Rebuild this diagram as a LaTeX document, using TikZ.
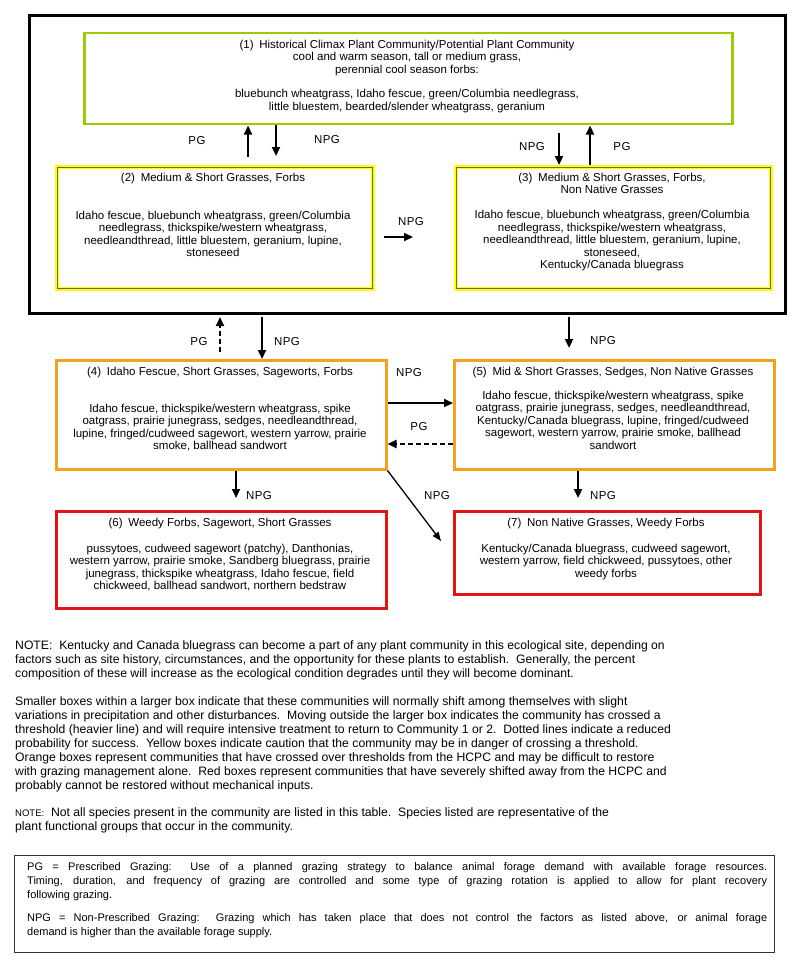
\documentclass[tikz,border=0pt]{standalone}
\usepackage{fontspec}
\setmainfont{Liberation Sans}
\usetikzlibrary{arrows.meta}
\definecolor{cgreen}{RGB}{155,204,0}
\definecolor{cyellow}{RGB}{255,255,0}
\definecolor{cyedge}{RGB}{110,110,60}
\definecolor{corange}{RGB}{245,160,30}
\definecolor{cred}{RGB}{228,20,20}
\begin{document}
\begin{tikzpicture}[x=1pt,y=-1pt,
  boxbase/.style={draw, anchor=north west, inner sep=0pt},
  obox/.style={boxbase, draw=black, line width=3pt},
  gbox/.style={boxbase, draw=cgreen, line width=2.5pt},
  ybox/.style={boxbase, draw=cyellow, line width=4pt},
  orbox/.style={boxbase, draw=corange, line width=2.5pt},
  rbox/.style={boxbase, draw=cred, line width=2.5pt},
  legbox/.style={boxbase, draw=black!80, line width=1.2pt},
  inedge/.style={draw=cyedge, line width=0.8pt},
  txt/.style={font=\fontsize{11.5}{12.4}\selectfont, align=center, inner sep=0pt, anchor=north},
  notetxt/.style={font=\fontsize{12.2}{14}\selectfont, align=left, inner sep=0pt, anchor=north west},
  lbl/.style={font=\fontsize{11.5}{12}\selectfont\addfontfeature{LetterSpace=4}, inner sep=0pt},
  arr/.style={-{Triangle[length=9pt,width=8pt]}, line width=2.2pt},
  thinarr/.style={-{Triangle[length=9pt,width=7pt]}, line width=1.3pt},
  dsh/.style={dash pattern=on 5pt off 3pt}
]
\useasboundingbox (0,0) rectangle (800,963);

% ---------- boxes ----------
\node[obox, minimum width=756pt, minimum height=298pt] (outer) at (28,14) {};
\node[gbox, minimum width=648pt, minimum height=91pt] (b1) at (83,32) {};
\node[ybox, minimum width=316pt, minimum height=122pt] (b2) at (55,165) {};
\node[ybox, minimum width=315pt, minimum height=122pt] (b3) at (454,165) {};
\draw[inedge] ([shift={(2.2pt,-2.2pt)}]b2.north west) rectangle ([shift={(-2.2pt,2.2pt)}]b2.south east);
\draw[inedge] ([shift={(2.2pt,-2.2pt)}]b3.north west) rectangle ([shift={(-2.2pt,2.2pt)}]b3.south east);
\node[orbox, minimum width=330pt, minimum height=109pt] (b4) at (55,359) {};
\node[orbox, minimum width=320pt, minimum height=109pt] (b5) at (453,359) {};
\node[rbox, minimum width=330pt, minimum height=97pt] (b6) at (55,510) {};
\node[rbox, minimum width=306pt, minimum height=83pt] (b7) at (453,510) {};

% ---------- box texts ----------
\node[txt] (t1) at (407,40) {(1)\enspace Historical Climax Plant Community/Potential Plant Community\\
cool and warm season, tall or medium grass,\\
perennial cool season forbs:\\[12pt]
bluebunch wheatgrass, Idaho fescue, green/Columbia needlegrass,\\
little bluestem, bearded/slender wheatgrass, geranium};

\node[txt] (t2) at (213,173) {(2)\enspace Medium \& Short Grasses, Forbs\\[25.5pt]
Idaho fescue, bluebunch wheatgrass, green/Columbia\\
needlegrass, thickspike/western wheatgrass,\\
needleandthread, little bluestem, geranium, lupine,\\
stoneseed};

\node[txt] (t3) at (612,173) {(3)\enspace Medium \& Short Grasses, Forbs,\\
Non Native Grasses\\[12.5pt]
Idaho fescue, bluebunch wheatgrass, green/Columbia\\
needlegrass, thickspike/western wheatgrass,\\
needleandthread, little bluestem, geranium, lupine,\\
stoneseed,\\
Kentucky/Canada bluegrass};

\node[txt] (t4) at (220,367) {(4)\enspace Idaho Fescue, Short Grasses, Sageworts, Forbs\\[24.5pt]
Idaho fescue, thickspike/western wheatgrass, spike\\
oatgrass, prairie junegrass, sedges, needleandthread,\\
lupine, fringed/cudweed sagewort, western yarrow, prairie\\
smoke, ballhead sandwort};

\node[txt] (t5) at (613,367) {(5)\enspace Mid \& Short Grasses, Sedges, Non Native Grasses\\[11.5pt]
Idaho fescue, thickspike/western wheatgrass, spike\\
oatgrass, prairie junegrass, sedges, needleandthread,\\
Kentucky/Canada bluegrass, lupine, fringed/cudweed\\
sagewort, western yarrow, prairie smoke, ballhead\\
sandwort};

\node[txt] (t6) at (220,518) {(6)\enspace Weedy Forbs, Sagewort, Short Grasses\\[13.5pt]
pussytoes, cudweed sagewort (patchy), Danthonias,\\
western yarrow, prairie smoke, Sandberg bluegrass, prairie\\
junegrass, thickspike wheatgrass, Idaho fescue, field\\
chickweed, ballhead sandwort, northern bedstraw};

\node[txt] (t7) at (606,518) {(7)\enspace Non Native Grasses, Weedy Forbs\\[13.5pt]
Kentucky/Canada bluegrass, cudweed sagewort,\\
western yarrow, field chickweed, pussytoes, other\\
weedy forbs};

% ---------- free arrow ends ----------
\coordinate (a1) at (248,157);
\coordinate (a2) at (276,156);
\coordinate (a3) at (559,133);
\coordinate (a4) at (590,0);
\coordinate (a5) at (384,237);
\coordinate (a6) at (413,237);
\coordinate (a7) at (220,352);
\coordinate (a8) at (220,317);
\coordinate (a9) at (262,317);
\coordinate (a10) at (569,317);
\coordinate (a11) at (569,348);
\coordinate (ya) at (0,403);
\coordinate (yb) at (0,444);
\coordinate (a12) at (236,498);
\coordinate (a13) at (578,498);
\coordinate (a14) at (441,541);

% ---------- arrows ----------
\draw[arr] (a1) -- (a1 |- b1.south);
\draw[arr] (a2 |- b1.south) -- (a2);
\draw[arr] (a3) -- (a3 |- b3.north);
\draw[arr] (a4 |- b3.north) -- (a4 |- b1.south);
\draw[arr] (a5) -- (a6);
\draw[arr, dsh] (a7) -- (a8);
\draw[arr] (a9) -- (a9 |- b4.north);
\draw[arr] (a10) -- (a11);
\draw[arr] (b4.east |- ya) -- (b5.west |- ya);
\draw[arr, dsh] (b5.west |- yb) -- (b4.east |- yb);
\draw[arr] (a12 |- b4.south) -- (a12);
\draw[arr] (a13 |- b5.south) -- (a13);
\draw[thinarr] (b4.south east) -- (a14);

% ---------- arrow labels ----------
\node[lbl] (l1) at (197,141) {PG};
\node[lbl] (l2) at (327,140) {NPG};
\node[lbl] (l3) at (532,147) {NPG};
\node[lbl] (l4) at (622,147) {PG};
\node[lbl] (l5) at (411,222) {NPG};
\node[lbl] (l6) at (199,342) {PG};
\node[lbl] (l7) at (287,342) {NPG};
\node[lbl] (l8) at (603,341) {NPG};
\node[lbl] (l9) at (409,373) {NPG};
\node[lbl] (l10) at (419,427) {PG};
\node[lbl] (l11) at (259,496) {NPG};
\node[lbl] (l12) at (437,496) {NPG};
\node[lbl] (l13) at (603,496) {NPG};

% ---------- notes ----------
\node[notetxt] (n1) at (15,640) {NOTE:\ \ Kentucky and Canada bluegrass can become a part of any plant community in this ecological site, depending on\\
factors such as site history, circumstances, and the opportunity for these plants to establish.\ \ Generally, the percent\\
composition of these will increase as the ecological condition degrades until they will become dominant.};

\node[notetxt] (n2) at (15,696) {Smaller boxes within a larger box indicate that these communities will normally shift among themselves with slight\\
variations in precipitation and other disturbances.\ \ Moving outside the larger box indicates the community has crossed a\\
threshold (heavier line) and will require intensive treatment to return to Community 1 or 2.\ \ Dotted lines indicate a reduced\\
probability for success.\ \ Yellow boxes indicate caution that the community may be in danger of crossing a threshold.\\
Orange boxes represent communities that have crossed over thresholds from the HCPC and may be difficult to restore\\
with grazing management alone.\ \ Red boxes represent communities that have severely shifted away from the HCPC and\\
probably cannot be restored without mechanical inputs.};

\node[notetxt] (n3) at (15,807) {{\fontsize{9.5}{14}\selectfont NOTE:}\ \ Not all species present in the community are listed in this table.\ \ Species listed are representative of the\\
plant functional groups that occur in the community.};

% ---------- legend ----------
\node[legbox, minimum width=760pt, minimum height=97pt] (leg) at (14,855) {};
\node[inner sep=0pt, anchor=north west, text width=740pt, align=justify,
      font=\fontsize{11}{14}\selectfont] (legtxt) at (27,862)
{\tolerance=10000 PG = Prescribed Grazing:\ \ Use of a planned grazing strategy to balance animal forage demand with available forage resources.\linebreak
Timing, duration, and frequency of grazing are controlled and some type of grazing rotation is applied to allow for plant recovery\linebreak
following grazing.\par\vskip 9pt
NPG = Non-Prescribed Grazing:\ \ Grazing which has taken place that does not control the factors as listed above, or animal forage\linebreak
demand is higher than the available forage supply.};
\end{tikzpicture}
\end{document}
